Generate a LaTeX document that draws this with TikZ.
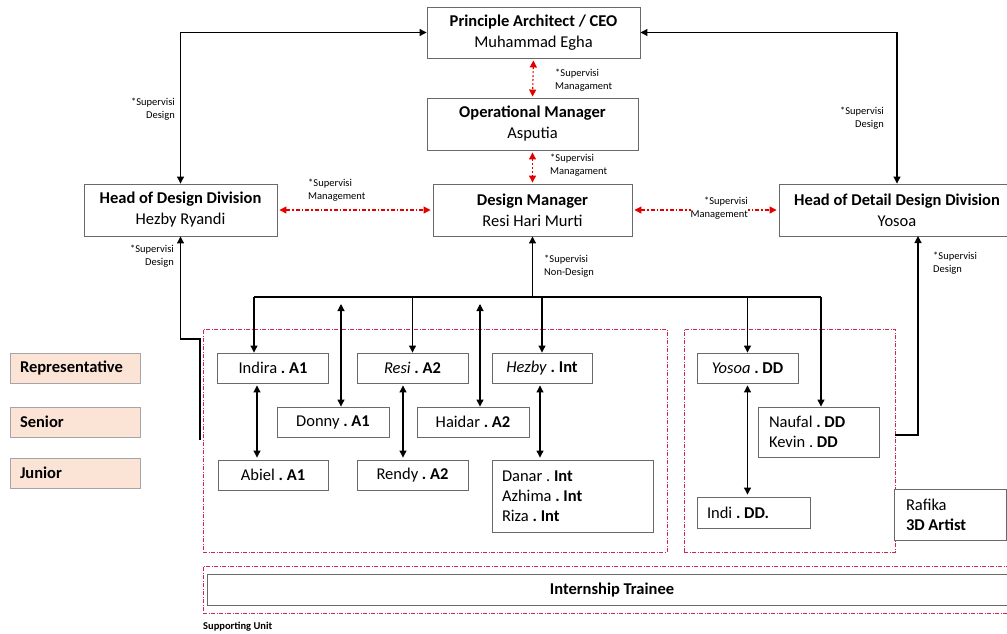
\documentclass[tikz,border=0pt]{standalone}
\usepackage{fontspec}
\setmainfont{Carlito}
\usetikzlibrary{arrows.meta}
\definecolor{peach}{RGB}{251,228,214}
\definecolor{unitred}{RGB}{205,40,80}
\definecolor{boxgray}{RGB}{105,105,105}
\frenchspacing
\tikzset{
  box/.style={draw=boxgray, line width=0.9pt, fill=white, inner sep=0pt, align=center, font=\fontsize{16.5}{21}\selectfont},
  staff/.style={box, minimum height=30pt},
  listbox/.style={draw=boxgray, line width=0.9pt, fill=white, inner xsep=10pt, inner ysep=0pt, align=flush left, font=\fontsize{16.5}{20}\selectfont},
  level/.style={draw=black!35, line width=0.9pt, fill=peach, minimum height=30pt, text width=110pt, inner xsep=10pt, inner ysep=0pt, align=flush left, font=\bfseries\fontsize{16.5}{20}\selectfont},
  unit/.style={draw=unitred, line width=0.8pt, dash pattern=on 4pt off 1.5pt on 1pt off 1.5pt, inner sep=0pt},
  note/.style={inner sep=0pt, align=left, font=\fontsize{10.5}{13}\selectfont},
  link/.style={draw=black, line width=1.1pt},
  mgmtv/.style={draw=red!90!black, line width=1.1pt, dash pattern=on 2pt off 2pt, <->, shorten <=2pt, shorten >=1pt},
  mgmth/.style={draw=red!90!black, line width=1.1pt, dash pattern=on 4pt off 2pt on 1.5pt off 2pt, <->, shorten <=2pt, shorten >=2pt}
}
\begin{document}
\begin{tikzpicture}[x=1pt, y=-1pt, >={Triangle[length=7pt,width=7pt]}]
\useasboundingbox (0,0) rectangle (1007,633);

\node[unit, minimum width=464pt, minimum height=223pt] (grpA) at (435,440.5) {};
\node[unit, minimum width=211pt, minimum height=223pt] (grpB) at (789.5,440.5) {};
\node[unit, minimum width=812pt, minimum height=47pt] (grpC) at (609,589.5) {};

\node[box, minimum width=213pt, minimum height=51pt] (ceo) at (533.5,32.5) {\textbf{Principle Architect / CEO}\\Muhammad Egha};
\node[box, minimum width=211pt, minimum height=52pt] (opm) at (532.5,124) {\textbf{Operational Manager}\\Asputia};
\node[box, minimum width=199pt, minimum height=52pt] (dm) at (532.5,210) {\textbf{Design Manager}\\Resi Hari Murti};
\node[box, minimum width=193pt, minimum height=52pt] (hod) at (180.5,210) {\textbf{Head of Design Division}\\Hezby Ryandi};
\node[box, minimum width=236pt, minimum height=52pt] (hodd) at (897,210) {\textbf{Head of Detail Design Division}\\Yosoa};

\node[level] (lvRep) at (75,368) {Representative};
\node[level] (lvSen) at (75,422) {Senior};
\node[level] (lvJun) at (75,473) {Junior};

\node[staff, minimum width=111pt] (indira) at (273,368) {Indira \textbf{. A1}};
\node[staff, minimum width=111pt] (resi) at (412.5,368) {\textit{Resi} \textbf{. A2}};
\node[staff, minimum width=100pt] (hezby) at (542,368) {\textit{Hezby} \textbf{. Int}};
\node[staff, minimum width=112pt] (donny) at (333,422) {Donny \textbf{. A1}};
\node[staff, minimum width=112pt] (haidar) at (473,422) {Haidar \textbf{. A2}};
\node[staff, minimum width=110pt] (abiel) at (273,475) {Abiel \textbf{. A1}};
\node[staff, minimum width=111pt] (rendy) at (412.5,475) {Rendy \textbf{. A2}};
\node[listbox, text width=141pt, minimum height=72pt] (interns) at (572.5,496) {Danar . \textbf{Int}\\Azhima \textbf{. Int}\\Riza \textbf{. Int}};
\node[staff, minimum width=101pt] (yosoa) at (747.5,368) {\textit{Yosoa} \textbf{. DD}};
\node[listbox, text width=99pt, inner xsep=11pt, minimum height=50pt] (naufal) at (818.5,432) {Naufal \textbf{. DD}\\Kevin . \textbf{DD}};
\node[listbox, text width=93pt, minimum height=31pt] (indi) at (753.5,512.5) {Indi \textbf{. DD.}};
\node[listbox, text width=88pt, inner xsep=12pt, minimum height=51pt] (rafika) at (950,514.5) {Rafika\\\textbf{3D Artist}};
\node[box, minimum width=810pt, minimum height=31pt, font=\bfseries\fontsize{16.5}{20}\selectfont] (intern) at (612,589.5) {Internship Trainee};
\node[anchor=west, inner sep=0pt, font=\bfseries\fontsize{10.5}{12}\selectfont] (support) at (203,627) {Supporting Unit};

\coordinate (busL) at (254,297);
\coordinate (busR) at (821,297);
\coordinate (donnyup) at (341,304);
\coordinate (haidarup) at (480,304);
\coordinate (hodtail) at (200,440);
\coordinate (hodbend) at (200,339);
\coordinate (ddtail) at (895,435);
\coordinate (hoddin) at (918,236);

\draw[link, <->] (hod.north) |- (ceo.west);
\draw[link, <->] (hodd.north) |- (ceo.east);
\draw[link, ->] (hodtail) -- (hodbend) -| (hod.south);
\draw[link, ->] (ddtail) -| (hoddin);
\draw[link, ->] (dm.south |- busL) -- (dm.south);
\draw[link] (busL) -- (busR);
\draw[link, ->] (busL) -- (busL |- indira.north);
\draw[link, ->] (resi.north |- busL) -- (resi.north);
\draw[link, ->] (hezby.north |- busL) -- (hezby.north);
\draw[link, ->] (yosoa.north |- busL) -- (yosoa.north);
\draw[link, ->] (busR) -- (busR |- naufal.north);
\draw[link, <->] (donnyup) -- (donnyup |- donny.north);
\draw[link, <->] (haidarup) -- (haidarup |- haidar.north);
\draw[link, <->, shorten <=2pt, shorten >=2pt] ([xshift=-16pt]indira.south) -- ([xshift=-16pt]abiel.north);
\draw[link, <->, shorten <=2pt, shorten >=2pt] ([xshift=-9.5pt]resi.south) -- ([xshift=-9.5pt]rendy.north);
\draw[link, <->, shorten <=2pt, shorten >=2pt] ([xshift=-2pt]hezby.south) -- ([xshift=-2pt]hezby.south |- interns.north);
\draw[link, <->, shorten <=2pt, shorten >=2pt] (yosoa.south) -- (yosoa.south |- indi.north);

\draw[mgmtv] (ceo.south) -- (opm.north);
\draw[mgmtv] (opm.south) -- (opm.south |- dm.north);
\draw[mgmth] (hod.east) -- (dm.west);
\draw[mgmth] (dm.east) -- (hodd.west);

\node[note, anchor=east, align=right] (sdL) at (175,109.5) {*Supervisi\\Design};
\node[note, anchor=east, align=right] (sdR) at (884,118) {*Supervisi\\Design};
\node[note, anchor=west] (smTop) at (555,80) {*Supervisi\\Managament};
\node[note, anchor=west] (smMid) at (550,165) {*Supervisi\\Managament};
\node[note, anchor=west] (smL) at (308,190.5) {*Supervisi\\Management};
\node[note, anchor=east, align=right, fill=white] (smR) at (748,208) {*Supervisi\\Management};
\node[note, anchor=east, align=right] (sdHod) at (174,256.5) {*Supervisi\\Design};
\node[note, anchor=west] (sdHodd) at (933,263) {*Supervisi\\Design};
\node[note, anchor=west] (snd) at (544,266.5) {*Supervisi\\Non-Design};
\end{tikzpicture}
\end{document}
